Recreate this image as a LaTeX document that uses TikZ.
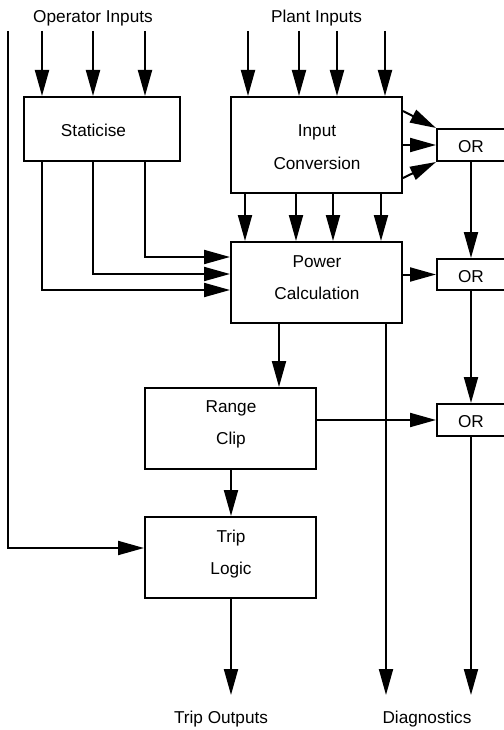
\documentclass[tikz,border=0pt]{standalone}
\usepackage{fontspec}
\setmainfont{Liberation Sans}
\usetikzlibrary{arrows.meta,calc}
\begin{document}
\begin{tikzpicture}[x=1pt,y=-1pt,
  line width=2pt,
  box/.style={draw,line width=2pt,inner sep=0pt,fill=white},
  txt/.style={anchor=base,inner sep=0pt,font=\fontsize{17.2}{20}\selectfont},
  arr/.style={-{Triangle[length=26pt,width=14pt]}}]
\useasboundingbox[fill=white] (0,0) rectangle (503,730);
% boxes
\node[box,minimum width=156,minimum height=64] (stat) at (102,129) {};
\node[box,minimum width=171,minimum height=96] (ic) at (316.5,145) {};
\node[box,minimum width=171,minimum height=81] (pc) at (316.5,282.5) {};
\node[box,minimum width=171,minimum height=81] (rc) at (230.5,428.5) {};
\node[box,minimum width=171,minimum height=81] (trip) at (230.5,557.5) {};
\node[box,minimum width=68,minimum height=32] (or1) at (471,145) {};
\node[box,minimum width=68,minimum height=31] (or2) at (471,274.5) {};
\node[box,minimum width=68,minimum height=32] (or3) at (471,420) {};
% texts
\node[txt] (tstat) at (93.5,137) {Staticise};
\node[txt] (tic1) at (317,137) {Input};
\node[txt] (tic2) at (317,169) {Conversion};
\node[txt] (tpc1) at (317,267) {Power};
\node[txt] (tpc2) at (317,299) {Calculation};
\node[txt] (trc1) at (231,412) {Range};
\node[txt] (trc2) at (231,444) {Clip};
\node[txt] (ttr1) at (231,542) {Trip};
\node[txt] (ttr2) at (231,574) {Logic};
\node[txt] (tor1) at (471,153) {OR};
\node[txt] (tor2) at (471,282) {OR};
\node[txt] (tor3) at (471,427) {OR};
\node[txt] (opin) at (93,23) {Operator Inputs};
\node[txt] (plin) at (316.5,23) {Plant Inputs};
\node[txt] (tout) at (221,723) {Trip Outputs};
\node[txt] (tdiag) at (427,723) {Diagnostics};
% free ends
\coordinate (op1) at (42,31);
\coordinate (op2) at (93,31);
\coordinate (op3) at (145,31);
\coordinate (pl1) at (248,31);
\coordinate (pl2) at (299,31);
\coordinate (pl3) at (337,31);
\coordinate (pl4) at (385,31);
\coordinate (lft) at (8,31);
\coordinate (pcx) at (279,0);
\coordinate (d1) at (386,695);
\coordinate (d2) at (471,695);
\coordinate (to) at (231,695);
% operator inputs
\foreach \c in {op1,op2,op3} \draw[arr] (\c) -- (stat.north -| \c);
% plant inputs
\foreach \c in {pl1,pl2,pl3,pl4} \draw[arr] (\c) -- (ic.north -| \c);
% IC -> PC
\foreach \x in {245,296,333,381} \draw[arr] (ic.south -| \x,0) -- (pc.north -| \x,0);
% Staticise -> PC
\draw[arr] (stat.south -| op3) |- ($(pc.north west)+(0,16)$);
\draw[arr] (stat.south -| op2) |- ($(pc.north west)+(0,33)$);
\draw[arr] (stat.south -| op1) |- ($(pc.north west)+(0,49)$);
% IC -> OR1
\draw[arr] ($(ic.north east)+(0,15)$) -- (or1.north west);
\draw[arr] (ic.east) -- (or1.west);
\draw[arr] ($(ic.south east)+(0,-16)$) -- (or1.south west);
% OR chain
\draw[arr] (or1.south) -- (or2.north);
\draw[arr] (or2.south) -- (or3.north);
\draw[arr] (pc.east |- or2.west) -- (or2.west);
\draw[arr] (rc.east |- or3.west) -- (or3.west);
% PC -> RC, diag
\draw[arr] (pc.south -| pcx) -- (rc.north -| pcx);
\draw[arr] (pc.south -| d1) -- (d1);
% RC -> Trip
\draw[arr] (rc.south -| to) -- (trip.north -| to);
% left line -> Trip
\draw[arr] (lft) |- ($(trip.north west)+(0,32)$);
% outputs
\draw[arr] (trip.south -| to) -- (to);
\draw[arr] (or3.south) -- (d2);
\end{tikzpicture}
\end{document}
